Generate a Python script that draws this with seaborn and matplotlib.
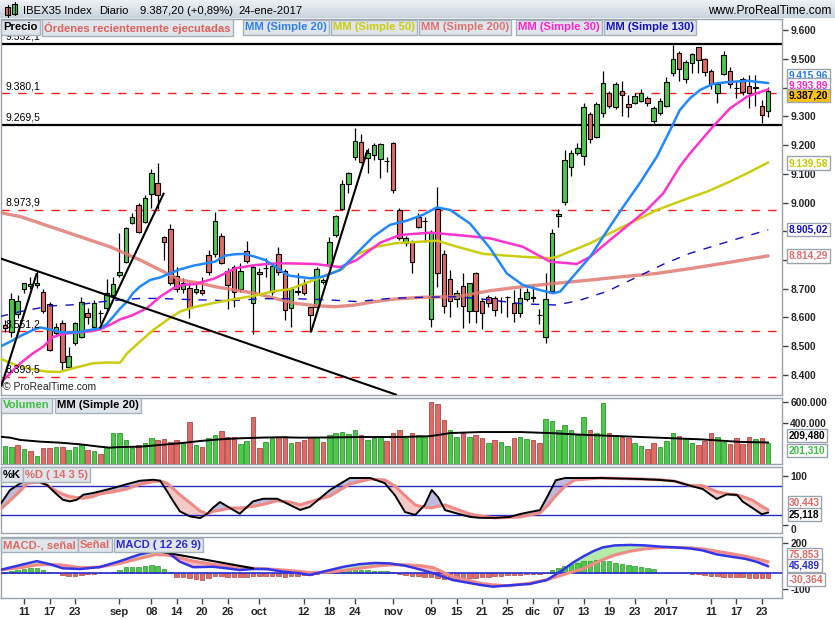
import numpy as np
import matplotlib
matplotlib.use("Agg")
import matplotlib.pyplot as plt
import seaborn as sns
from matplotlib.patches import Rectangle
from matplotlib.colors import LinearSegmentedColormap

# ---------------- DATA ----------------
dates_lbl_slots = [3, 7, 11, 18, 23, 27, 31, 35, 40, 47, 51, 55, 61, 67, 71, 75, 79, 83, 87, 91, 95, 99, 104, 111, 115, 119]
dates_lbl = ['11', '17', '23', 'sep', '08', '14', '20', '26', 'oct', '12', '18', '24', 'nov', '09', '15', '21', '25', 'dic',
             '07', '13', '19', '23', '2017', '11', '17', '23']

opens = [8573, 8550, 8612, 8698, 8708, 8712, 8688, 8647, 8545, 8579, 8428, 8512, 8533, 8616, 8568, 8616, 8632, 8678, 8748, 8794,
         8930, 8991, 8933, 9030, 9069, 8879, 8907, 8745, 8698, 8701, 8690, 8695, 8817, 8820, 8884, 8763, 8774, 8700, 8831, 8649,
         8757, 8771, 8690, 8820, 8760, 8632, 8692, 8716, 8635, 8637, 8722, 8782, 8887, 8976, 9064, 9157, 9210, 9154, 9165, 9150,
         9146, 9206, 8974, 8858, 8861, 8951, 8937, 8594, 8976, 8820, 8733, 8663, 8710, 8622, 8753, 8658, 8672, 8666, 8657, 8672,
         8649, 8614, 8663, 8670, 8608, 8531, 8692, 8954, 9003, 9123, 9171, 9162, 9308, 9227, 9311, 9380, 9331, 9388, 9343, 9348,
         9355, 9363, 9285, 9311, 9336, 9450, 9522, 9429, 9487, 9540, 9499, 9459, 9383, 9448, 9459, 9398, 9429, 9407, 9400, 9337,
         9320]
highs = [8590, 8684, 8678, 8721, 8742, 8762, 8698, 8655, 8580, 8590, 8498, 8585, 8672, 8632, 8661, 8626, 8733, 8742, 8893, 8916,
         8962, 8997, 9026, 9116, 9136, 8883, 8925, 8775, 8736, 8718, 8715, 8742, 8834, 8968, 8893, 8771, 8782, 8790, 8866, 8782,
         8771, 8808, 8788, 8846, 8767, 8707, 8753, 8733, 8637, 8777, 8736, 8881, 8957, 9078, 9107, 9258, 9239, 9189, 9206, 9206,
         9160, 9212, 8980, 8885, 8869, 8962, 8951, 8904, 9055, 8833, 8765, 8695, 8753, 8721, 8759, 8666, 8678, 8675, 8670, 8674,
         8695, 8701, 8701, 8713, 8628, 8753, 8907, 8976, 9183, 9183, 9208, 9345, 9316, 9351, 9458, 9389, 9421, 9424, 9374, 9380,
         9394, 9371, 9337, 9363, 9438, 9548, 9529, 9496, 9522, 9543, 9502, 9464, 9421, 9529, 9471, 9424, 9436, 9444, 9444, 9357,
         9403]
lows = [8548, 8533, 8597, 8684, 8700, 8704, 8615, 8484, 8540, 8417, 8422, 8504, 8527, 8577, 8562, 8579, 8620, 8672, 8742, 8788,
        8925, 8893, 8927, 8980, 8976, 8800, 8713, 8690, 8684, 8597, 8680, 8678, 8748, 8811, 8785, 8628, 8637, 8690, 8788, 8542,
        8680, 8742, 8678, 8748, 8591, 8565, 8678, 8678, 8548, 8632, 8715, 8777, 8881, 8974, 9034, 9148, 9136, 9102, 9148, 9084,
        9107, 9032, 8869, 8850, 8753, 8910, 8864, 8568, 8707, 8614, 8603, 8637, 8562, 8579, 8579, 8558, 8637, 8605, 8614, 8602,
        8585, 8603, 8658, 8655, 8577, 8510, 8684, 8914, 8991, 9092, 9165, 9131, 9208, 9223, 9299, 9330, 9324, 9301, 9299, 9343,
        9351, 9336, 9278, 9305, 9334, 9440, 9424, 9415, 9450, 9450, 9440, 9395, 9345, 9444, 9400, 9363, 9376, 9328, 9336, 9276,
        9299]
closes = [8562, 8663, 8658, 8718, 8716, 8720, 8621, 8486, 8565, 8446, 8466, 8579, 8655, 8602, 8651, 8614, 8684, 8716, 8759, 8910,
          8951, 8898, 9015, 9102, 9026, 8864, 8718, 8700, 8718, 8631, 8698, 8684, 8757, 8936, 8790, 8713, 8687, 8760, 8796, 8777,
          8750, 8772, 8780, 8757, 8625, 8699, 8690, 8684, 8608, 8767, 8730, 8864, 8953, 9064, 9102, 9215, 9142, 9174, 9200, 9204,
          9145, 9044, 8875, 8875, 8792, 8916, 8936, 8898, 8756, 8640, 8657, 8686, 8640, 8719, 8622, 8614, 8651, 8626, 8656, 8671,
          8616, 8666, 8688, 8669, 8607, 8663, 8893, 8960, 9148, 9171, 9189, 9331, 9220, 9343, 9417, 9336, 9413, 9374, 9334, 9371,
          9383, 9345, 9328, 9354, 9421, 9499, 9464, 9490, 9517, 9496, 9456, 9413, 9413, 9514, 9413, 9397, 9386, 9383, 9401, 9304.4,
          9387.2]
prev_close = 8540

volume_k = [176, 163, 183, 147, 128, 80, 154, 154, 163, 163, 138, 163, 186, 138, 128, 99, 154, 298, 298, 234,
            160, 186, 202, 250, 234, 243, 212, 234, 209, 404, 186, 163, 250, 282, 320, 260, 266, 195, 227, 452,
            154, 212, 250, 266, 275, 202, 212, 230, 250, 260, 210, 280, 300, 310, 290, 330, 280, 230, 250, 260,
            220, 300, 330, 250, 300, 280, 260, 600, 580, 430, 330, 260, 300, 260, 280, 250, 200, 230, 210, 180,
            250, 260, 240, 230, 200, 440, 420, 330, 380, 330, 280, 450, 330, 300, 590, 300, 280, 260, 250, 200,
            180, 150, 200, 170, 220, 300, 270, 250, 200, 186, 227, 298, 260, 212, 192, 250, 192, 260, 240, 250,
            201.31]
volma_slot = [-0.8, 0.8, 2.4, 5.5, 8.6, 11.8, 14.9, 16.5, 18.1, 21.2, 24.4, 27.5, 30.7, 33.8, 37.0, 40.1, 43.2, 46.4, 51.1,
              55.8, 62.1, 66.8, 70.0, 74.7, 81.0, 85.7, 90.4, 96.7, 103.0, 109.3, 115.6, 120]
volma_k = [265, 256, 234, 218, 208, 192, 169, 160, 166, 169, 186, 202, 224, 240, 250, 256, 260, 256, 258, 262, 262, 270, 300,
           310, 310, 300, 285, 270, 255, 240, 215, 209.48]

ma20_slot = [-0.8, 0.8, 2.4, 4.4, 5.5, 7.1, 8.6, 10.2, 11.8, 13.8, 14.9, 16.0, 17.0, 18.1, 19.2, 20.1, 21.2, 22.8, 24.4, 25.9,
             27.5, 29.6, 33.0, 34.6, 36.2, 37.7, 39.3, 40.9, 42.5, 44.0, 44.8, 48.0, 50.0, 52.7, 55.3, 57.9, 60.5, 63.2, 65.7,
             67.9, 70.0, 73.1, 76.3, 78.9, 81.4, 84.1, 86.2, 87.3, 89.3, 92.0, 95.1, 97.2, 99.8, 102.5, 104.6, 106.1, 107.7,
             109.3, 111.3, 113.5, 116.7, 120]
ma20 = [8498, 8515, 8535, 8556, 8565, 8558, 8549, 8547, 8550, 8558, 8562, 8577, 8602, 8631, 8655, 8684, 8707, 8730, 8739, 8753,
        8767, 8780, 8794, 8815, 8820, 8821, 8811, 8800, 8777, 8753, 8745, 8736, 8742, 8765, 8823, 8881, 8922, 8937, 8957,
        8983, 8974, 8927, 8840, 8753, 8713, 8695, 8684, 8690, 8742, 8811, 8916, 8985, 9067, 9160, 9253, 9322, 9363,
        9392, 9413, 9419, 9424, 9415.96]
ma30_slot = [-0.8, 0.8, 2.4, 4.4, 6.0, 7.5, 8.6, 9.7, 11.8, 13.8, 14.9, 16.5, 18.1, 20.1, 22.3, 24.4, 26.4, 28.0, 29.9, 33.0,
             36.2, 39.3, 42.5, 44.8, 48.7, 52.7, 55.3, 59.0, 62.1, 66.8, 71.1, 76.3, 81.4, 85.7, 89.9, 92.0, 95.1, 98.3,
             100.9, 103.5, 106.1, 107.7, 111.3, 114.0, 116.7, 120]
ma30 = [8370, 8405, 8440, 8475, 8498, 8531, 8539, 8544, 8548, 8553, 8558, 8574, 8593, 8608, 8632, 8672, 8701, 8713, 8716, 8736,
        8771, 8782, 8788, 8788, 8786, 8775, 8800, 8860, 8887, 8895, 8887, 8875, 8846, 8794, 8786, 8811, 8869, 8927,
        8974, 9032, 9125, 9171, 9264, 9328, 9369, 9393.89]
ma50_slot = [-0.8, 0.8, 2.4, 4.4, 6.6, 8.6, 10.7, 13.8, 16.0, 18.1, 19.2, 21.2, 23.3, 25.5, 27.5, 29.6, 33.0, 36.2, 39.3, 42.5,
             44.8, 50.0, 53.1, 55.3, 58.2, 61.3, 65.7, 67.9, 71.1, 75.2, 81.4, 85.7, 86.8, 92.0, 97.2, 102.5, 107.7, 110.4,
             114.0, 116.7, 120]
ma50 = [8457, 8442, 8428, 8419, 8411, 8410, 8423, 8440, 8443, 8442, 8475, 8515, 8556, 8591, 8620, 8635, 8651, 8664, 8676, 8692,
        8698, 8742, 8770, 8820, 8845, 8858, 8864, 8867, 8846, 8821, 8811, 8806, 8811, 8858, 8916, 8974, 9017, 9038,
        9073, 9102, 9139.58]
ma200_slot = [-0.8, 2.4, 7.1, 11.8, 16.5, 21.2, 24.4, 27.5, 30.7, 33.0, 36.2, 39.3, 42.5, 45.6, 48.7, 51.9, 55.0, 58.2, 61.3,
              65.7, 71.1, 76.3, 81.4, 86.8, 92.0, 97.2, 102.5, 107.7, 112.9, 120]
ma200 = [8965, 8951, 8916, 8881, 8846, 8800, 8765, 8730, 8719, 8707, 8695, 8684, 8666, 8649, 8641, 8637, 8643, 8655, 8664,
         8670, 8672, 8693, 8707, 8719, 8730, 8742, 8753, 8770, 8788, 8814.29]
ma130_slot = [-0.8, 2.4, 7.1, 11.8, 16.5, 21.2, 24.4, 27.5, 30.7, 35.1, 40.4, 45.6, 50.8, 55.3, 60.5, 65.7, 71.1, 76.3, 81.4,
              86.8, 90.4, 94.6, 99.8, 103.5, 107.7, 114.0, 120]
ma130 = [8603, 8620, 8640, 8645, 8658, 8666, 8666, 8663, 8661, 8658, 8665, 8665, 8661, 8655, 8666, 8670, 8672, 8661, 8647,
         8643, 8660, 8690, 8745, 8785, 8823, 8866, 8905.02]

levels_solid = [9552.1, 9269.5]
levels_dash = [9380.1, 8973.9, 8551.2, 8393.5]
trend_lines = [((-0.8, 8806), (61.6, 8330)), ((-0.6, 8359), (5.0, 8754)), ((14.9, 8562), (25.0, 9034)),
               ((48.1, 8548), (57.0, 9183))]

stoch_slot = [-0.8, 0.8, 2.4, 3.5, 4.4, 5.5, 6.6, 8.2, 9.1, 10.2, 11.3, 12.3, 13.8, 14.9, 17.0, 19.2, 21.2, 23.3, 24.4, 25.5,
              26.4, 27.5, 29.1, 30.7, 31.8, 32.7, 33.8, 35.4, 36.9, 39.0, 40.6, 42.8, 44.8, 46.4, 47.9, 51.1, 54.2, 57.4, 59.7,
              61.3, 62.9, 64.5, 66.0, 67.1, 68.1, 69.2, 70.8, 73.1, 74.7, 77.0, 79.4, 81.0, 82.5, 84.1, 85.4, 86.6, 88.1, 89.6,
              93.6, 99.8, 103.0, 105.3, 107.7, 109.7, 111.9, 113.5, 115.1, 116.0, 117.6, 119.0, 120]
stoch_k = [40.7, 71.8, 85.6, 92.5, 89, 88, 82, 61.9, 51.5, 48.1, 51.5, 61.9, 65.4, 68.8, 75.7, 84, 90.9, 93, 90.9, 68.8,
           49.5, 27.4, 17, 13.6, 22.5, 35, 46.7, 34.3, 22.5, 48.1, 53.6, 53.6, 40.7, 30.4, 36.6, 71.8, 96.6, 96.6, 86, 61,
           26, 20, 40.7, 71.8, 57, 30, 24, 16, 14, 14, 16, 22, 26, 30, 61, 92, 96.6, 96.6, 96.6, 94.5,
           92.5, 90, 80.7, 73.8, 53.1, 62.8, 61.4, 47.6, 33.8, 21.4, 25.118]
stoch_d = [30.4, 50, 70, 85.6, 87, 87.7, 82.2, 68.4, 63, 58.1, 56, 54.6, 58, 63.5, 68, 74, 83.5, 89, 90.4, 85.6,
           75, 61.9, 45, 28, 21.9, 27.4, 30, 34.3, 34.3, 37.8, 42, 49.5, 46.7, 40.7, 47, 59.3, 84, 94.5, 92.5, 80,
           60, 40.7, 36, 34.5, 38, 40.7, 33, 22, 18, 14, 15, 16, 20, 24, 40.7, 60, 80, 92.5, 96.6, 94.5,
           93, 90, 80.7, 80.7, 68.3, 63.5, 61.4, 58, 50, 38, 30.443]

macd_slot = [-0.8, 2.4, 5.0, 7.1, 9.1, 11.8, 14.9, 18.1, 21.2, 23.6, 25.5, 27.5, 29.6, 32.7, 34.9, 36.9, 39.0, 41.2, 43.7,
             46.4, 47.9, 51.1, 53.5, 55.8, 58.2, 60.5, 62.9, 65.3, 67.3, 70.4, 74.7, 76.7, 78.9, 82.5, 85.2, 87.7, 89.3, 90.9,
             92.5, 94.0, 95.9, 98.3, 100.6, 103.0, 105.3, 107.7, 109.7, 111.9, 114.0, 116.4, 118.2, 120]
macd = [21.6, 54, 80, 59, 32.7, 28, 41, 80, 124, 146, 141, 76, 40, 43, 32.7, 21.6, 28, 28, 10.5,
        0, -11, 21.6, 45, 60, 68, 65, 50, 25, 0, -44, -76, -88, -80, -70, -44, 21.6, 70, 110,
        145, 170, 183, 186, 183, 175, 170, 163, 150, 124, 110, 95, 75, 45.489]
signal = [21.6, 36.6, 55, 58, 54, 36.6, 41, 65, 98, 122, 120, 100, 80, 59, 48, 40, 32.7, 29, 22,
          12, 5, 8, 20, 33, 47, 55, 56, 50, 38, -22, -65, -75, -83, -65, -42, -10, 10.5, 30,
          60, 90, 120, 145, 160, 168, 170, 167, 160, 145, 130, 112, 95, 75.853]
hist = [10, 15, 21, 28, 36, 36, 21, 8, 3, -8, -15, -15, -10, -3, -2, 0, 3, 8, 21, 43,
        43, 43, 50, 57, 50, 28, 8, -26, -26, -33, -37, -41, -33, -15, -20, -26, -26, -26, -22, -15,
        -15, -15, -15, -15, -22, -15, -15, -8, -10, -5, 3, 8, 15, 20, 22, 25, 22, 20, 18, 15,
        12, 8, -2, -10, -15, -18, -22, -25, -30, -35, -38, -37, -35, -30, -28, -25, -22, -18, -15, -12,
        -10, -8, -5, -3, -2, 5, 20, 35, 50, 60, 68, 80, 82, 85, 82, 78, 70, 62, 55, 48,
        40, 32, 25, 3, 2, 1, 2, 0, -2, -3, -13, -16, -20, -22, -24, -26, -27, -28, -29, -30,
        -30.364]
macd_trend = ((23.9, 146), (39.0, 33))

# ---------------- STYLE ----------------
sns.set_theme(style="white")
plt.rcParams['font.family'] = ['Liberation Sans', 'DejaVu Sans']

W, H = 835, 620
fig = plt.figure(figsize=(W / 100, H / 100), dpi=100)
fig.patch.set_facecolor('white')

GREEN, RED = '#4cc94c', '#e06a66'
GREEN_E, RED_E = '#2f9a2f', '#b04848'
SPINE = '#98a3ad'


def fx(px):
    return px / W


def fy(py):
    return 1 - py / H


def add_ax(x0, y0, x1, y1):
    a = fig.add_axes([fx(x0), fy(y1), (x1 - x0) / W, (y1 - y0) / H])
    for s in a.spines.values():
        s.set_color(SPINE)
        s.set_linewidth(1)
    a.set_facecolor('white')
    return a


def eu(v, d):
    s = f"{v:,.{d}f}"
    return s.replace(",", "_").replace(".", ",").replace("_", ".")


def label_box(px, py, text, color, fs=8.1, fc='#dfe5ea', ec='#a6b1bb'):
    fig.text(fx(px), fy(py), text, color=color, fontsize=fs, fontweight='bold', ha='left', va='center',
             bbox=dict(boxstyle='square,pad=0.2', fc=fc, ec=ec, lw=1), zorder=20)


def value_box(py, text, color, fc='white', pad=0.18):
    fig.text(fx(789), fy(py), text, color=color, fontsize=7.3, fontweight='bold', ha='left', va='center',
             bbox=dict(boxstyle=f'square,pad={pad}', fc=fc, ec='#9aa4ae', lw=1), zorder=20)


def right_ticks(a, vals, labels):
    a.yaxis.tick_right()
    a.set_yticks(vals)
    a.set_yticklabels(labels, fontsize=7.4, fontweight='bold')
    a.tick_params(axis='y', which='both', right=True, length=4, width=1, color='#444444', pad=2)


XLIM = (-0.63, 122.17)
x = np.arange(len(opens))
O, Hh, L, C = map(np.array, (opens, highs, lows, closes))

# ---------------- TITLE BAR ----------------
tb = fig.add_axes([0, fy(18), 1, 18 / H])
grad = np.linspace(0, 1, 50).reshape(-1, 1)
cm = LinearSegmentedColormap.from_list('tb', ['#eef2f6', '#c9d3dc'])
tb.imshow(grad, aspect='auto', cmap=cm, extent=[0, 1, 0, 1])
tb.set_axis_off()
fig.lines.append(plt.Line2D([fx(7.5), fx(7.5)], [fy(17), fy(5)], transform=fig.transFigure, color='black', lw=0.8))
fig.lines.append(plt.Line2D([fx(14.5), fx(14.5)], [fy(15), fy(2)], transform=fig.transFigure, color='black', lw=0.8))
fig.patches.append(Rectangle((fx(5), fy(15)), 5 / W, 8 / H, transform=fig.transFigure, fc=RED, ec='black', lw=0.8))
fig.patches.append(Rectangle((fx(12), fy(14)), 5 / W, 10 / H, transform=fig.transFigure, fc=GREEN, ec='black', lw=0.8))
chg = (C[-1] / C[-2] - 1) * 100
TFS = 8.1
fig.text(fx(23), fy(11.5), 'IBEX35 Index', fontsize=TFS, va='center', color='black')
fig.text(fx(99), fy(11.5), 'Diario', fontsize=TFS, va='center', color='black')
fig.text(fx(140), fy(11.5), f"{eu(C[-1], 2)} (+{eu(chg, 2)}%)", fontsize=TFS, va='center', color='black')
fig.text(fx(238), fy(11.5), '24-ene-2017', fontsize=TFS, va='center', color='black')
fig.text(fx(831), fy(11.5), 'www.ProRealTime.com', fontsize=8.6, va='center', ha='right', color='black')

# ---------------- PRICE PANEL ----------------
ax = add_ax(1, 19, 782, 395)
ax.set_xlim(*XLIM)
ax.set_ylim(8329.7, 9639)
for lv in levels_solid:
    ax.axhline(lv, color='black', lw=1.6, zorder=2)
for lv in levels_dash:
    ax.axhline(lv, color='#ff1a1a', lw=1.0, dashes=(6, 6), zorder=2)
for lv in levels_solid + levels_dash:
    ax.text(0.0, lv + 8, eu(lv, 1), fontsize=7.5, color='black', ha='left', va='bottom', zorder=9)

up = C >= O
ax.vlines(x, L, Hh, color='black', lw=0.9, zorder=3)
ax.bar(x, np.abs(C - O), bottom=np.minimum(O, C), width=0.72, color=np.where(up, GREEN, RED),
       edgecolor='black', linewidth=0.8, zorder=4)

sns.lineplot(x=ma200_slot, y=ma200, ax=ax, color='#e07a72', lw=2.4, alpha=0.85, zorder=5, estimator=None)
l130 = sns.lineplot(x=ma130_slot, y=ma130, ax=ax, color='#1010cc', lw=1.0, zorder=5, estimator=None)
l130.lines[-1].set_dashes((6, 6))
sns.lineplot(x=ma50_slot, y=ma50, ax=ax, color='#cccc10', lw=1.8, zorder=5, estimator=None)
sns.lineplot(x=ma30_slot, y=ma30, ax=ax, color='#ff33cc', lw=1.8, zorder=5, estimator=None)
sns.lineplot(x=ma20_slot, y=ma20, ax=ax, color='#2288ff', lw=1.8, zorder=5, estimator=None)
for (a, b) in trend_lines:
    ax.plot([a[0], b[0]], [a[1], b[1]], color='black', lw=1.5, zorder=6, solid_capstyle='butt')

pticks = np.arange(8400, 9700, 100)
hidden = {9400, 8900, 8800}   # covered by the value boxes in the reference
right_ticks(ax, pticks, ['' if v in hidden else eu(v, 0) for v in pticks])
ax.set_xticks([])
ax.set_xlabel('')
ax.set_ylabel('')
ax.text(0.003, 0.008, '© ProRealTime.com', transform=ax.transAxes, fontsize=7.5, ha='left', va='bottom', zorder=9)

# legend row
label_box(3, 27.5, 'Precio', 'black')
label_box(44, 27.5, 'Órdenes recientemente ejecutadas', '#e0605c')
label_box(245, 27.5, 'MM (Simple 20)', '#2a7ff0')
label_box(333, 27.5, 'MM (Simple 50)', '#cccc10')
label_box(421, 27.5, 'MM (Simple 200)', '#e07070')
label_box(518, 27.5, 'MM (Simple 30)', '#ff22cc')
label_box(606, 27.5, 'MM (Simple 130)', '#1010c0')

# value boxes (price)
value_box(75.5, eu(ma20[-1], 2), '#2a7ff0')
value_box(85.0, eu(ma30[-1], 2), '#ff22cc')
value_box(95.5, eu(C[-1], 2), 'black', fc='#ffc20e')
value_box(163, eu(ma50[-1], 2), '#c8c800')
value_box(229.5, eu(ma130[-1], 2), '#1010c0')
value_box(256, eu(ma200[-1], 2), '#e07070')

# ---------------- VOLUME PANEL ----------------
axv = add_ax(1, 398, 782, 464.3)
axv.set_xlim(*XLIM)
axv.set_ylim(0, 637000)
prev = np.r_[prev_close, C[:-1]]
vup = C >= prev
vol = np.array(volume_k) * 1000
axv.bar(x, vol, width=0.72, color=np.where(vup, GREEN, RED), edgecolor=np.where(vup, GREEN_E, RED_E),
        linewidth=0.6, zorder=3)
sns.lineplot(x=volma_slot, y=np.array(volma_k) * 1000, ax=axv, color='black', lw=1.4, zorder=4, estimator=None)
right_ticks(axv, [400000, 600000], ['400.000', '600.000'])
axv.set_xticks([])
axv.set_xlabel('')
axv.set_ylabel('')
label_box(3, 405.5, 'Volumen', '#3fbf3f')
label_box(57, 405.5, 'MM (Simple 20)', 'black')
value_box(435.5, eu(volma_k[-1], 3), 'black')
value_box(450.5, eu(volume_k[-1], 3), '#3fbf3f')

# ---------------- STOCHASTIC PANEL ----------------
axs = add_ax(1, 466.7, 782, 533.3)
axs.set_xlim(*XLIM)
axs.set_ylim(-18, 120)
sk, sd = np.array(stoch_k), np.array(stoch_d)
axs.fill_between(stoch_slot, sk, sd, where=sk >= sd, interpolate=True, color='#b9b3d9', alpha=0.9, lw=0, zorder=2)
axs.fill_between(stoch_slot, sk, sd, where=sk < sd, interpolate=True, color='#f6c4c4', alpha=0.9, lw=0, zorder=2)
axs.axhline(80, color='#2a2ac8', lw=1, zorder=3)
axs.axhline(20, color='#2a2ac8', lw=1, zorder=3)
sns.lineplot(x=stoch_slot, y=stoch_d, ax=axs, color='#ee8a86', lw=2.2, zorder=4, estimator=None)
sns.lineplot(x=stoch_slot, y=stoch_k, ax=axs, color='black', lw=1.4, zorder=5, estimator=None)
right_ticks(axs, [0, 100], ['0', '100'])
axs.tick_params(axis='y', pad=2)
axs.get_yticklabels()[0].set_va('top')
axs.set_xticks([])
axs.set_xlabel('')
axs.set_ylabel('')
label_box(3, 474.5, '%K', 'black')
label_box(25, 474.5, '%D ( 14 3 5)', '#e06a66')
value_box(502.5, eu(stoch_d[-1], 3), '#e06a66', pad=0.14)
value_box(514.5, eu(stoch_k[-1], 3), 'black', pad=0.14)

# ---------------- MACD PANEL ----------------
axm = add_ax(1, 536.7, 782, 597.7)
axm.set_xlim(*XLIM)
axm.set_ylim(-160, 240)
mc, sg = np.array(macd), np.array(signal)
axm.fill_between(macd_slot, mc, sg, where=mc >= sg, interpolate=True, color='#b6eaa8', lw=0, zorder=2)
axm.fill_between(macd_slot, mc, sg, where=mc < sg, interpolate=True, color='#f6b9b6', lw=0, zorder=2)
hh = np.array(hist)
axm.bar(x, hh, width=0.72, color=np.where(hh >= 0, GREEN, RED), edgecolor=np.where(hh >= 0, GREEN_E, RED_E),
        linewidth=0.5, zorder=3)
axm.axhline(0, color='#2a2ad0', lw=1.2, zorder=4)
sns.lineplot(x=macd_slot, y=signal, ax=axm, color='#f08a86', lw=2.2, zorder=5, estimator=None)
sns.lineplot(x=macd_slot, y=macd, ax=axm, color='#3535e8', lw=1.8, zorder=6, estimator=None)
axm.plot([macd_trend[0][0], macd_trend[1][0]], [macd_trend[0][1], macd_trend[1][1]], color='black', lw=1.5, zorder=7)
right_ticks(axm, [-100, 200], ['-100', '200'])
axm.set_xticks(dates_lbl_slots)
axm.set_xticklabels(dates_lbl, fontsize=8, fontweight='bold')
axm.tick_params(axis='x', bottom=True, length=4, width=1, color='#444444', pad=3)
axm.set_xlabel('')
axm.set_ylabel('')
label_box(3, 545, 'MACD-, señal', '#e06a66')
label_box(80, 545, 'Señal', '#e06a66')
label_box(116, 545, 'MACD ( 12 26 9)', '#2a2ad0')
value_box(554.5, eu(signal[-1], 3), '#e06a66')
value_box(565.5, eu(macd[-1], 3), '#2a2ad0')
value_box(579.5, eu(hist[-1], 3), '#e06a66')

fig.savefig('out.png', dpi=100)
